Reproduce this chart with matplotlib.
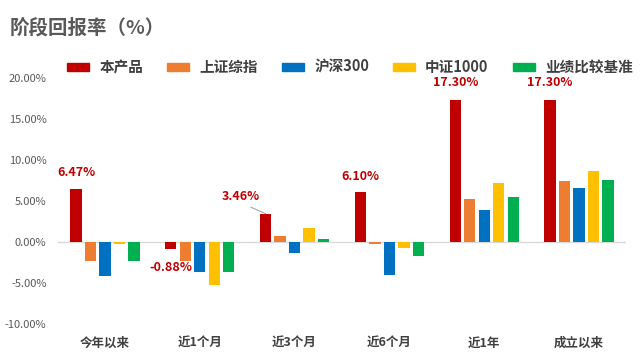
import matplotlib
matplotlib.use("Agg")
import matplotlib.pyplot as plt
import numpy as np
from matplotlib.patches import Patch

plt.rcParams['font.family'] = ['Noto Sans CJK SC', 'DejaVu Sans']

categories = ['今年以来', '近1个月', '近3个月', '近6个月', '近1年', '成立以来']
series_names = ['本产品', '上证综指', '沪深300', '中证1000', '业绩比较基准']
product = [6.47, -0.88, 3.46, 6.10, 17.30, 17.30]
sse = [-2.3, -2.3, 0.7, -0.3, 5.25, 7.45]
csi300 = [-4.2, -3.7, -1.3, -4.0, 3.9, 6.6]
csi1000 = [-0.2, -5.25, 1.7, -0.7, 7.2, 8.7]
benchmark = [-2.3, -3.7, 0.4, -1.7, 5.5, 7.6]
yticks = [-10, -5, 0, 5, 10, 15, 20]
labelled = ['6.47%', '-0.88%', '3.46%', '6.10%', '17.30%', '17.30%']

colors = ['#C00000', '#ED7D31', '#0070C0', '#FFC000', '#00B050']
# label offsets in points (dx, dy) relative to bar end
label_offsets = [(0, 11.5), (0, -13), (-18, 12.5), (0, 11), (0, 12.5), (0, 12.5)]

fig = plt.figure(figsize=(6.4, 3.61), dpi=100)
ax = fig.add_axes([57.6/640, 1-324/361, (626.4-57.6)/640, (324-78)/361])

data = [product, sse, csi300, csi1000, benchmark]
x = np.arange(len(categories))
pitch = 0.153
width = 0.119
for i, (vals, c) in enumerate(zip(data, colors)):
    ax.bar(x + (i-2)*pitch, vals, width=width, color=c, zorder=3)

for j, (v, lab) in enumerate(zip(product, labelled)):
    dx, dy = label_offsets[j]
    kw = {}
    if dx != 0:
        kw['arrowprops'] = dict(arrowstyle='-', color='#A6A6A6', lw=0.8,
                                relpos=(0.5, 0), shrinkA=3, shrinkB=0)
    ax.annotate(lab, xy=(x[j] - 2*pitch, v), xytext=(dx, dy),
                textcoords='offset points', ha='center', va='center',
                fontsize=9, fontweight='bold', color='#C00000', **kw)

ax.set_xlim(-0.5, len(categories)-0.5)
ax.set_ylim(-10, 20)
ax.set_yticks(yticks)
ax.set_yticklabels([f'{t:.2f}%' for t in yticks], fontsize=8, color='#595959')
ax.set_xticks(x)
ax.set_xticklabels(categories, fontsize=9, color='#404040', fontweight='bold')
ax.tick_params(axis='both', length=0)
ax.tick_params(axis='x', pad=9)
ax.tick_params(axis='y', pad=8)
for s in ax.spines.values():
    s.set_visible(False)
ax.axhline(0, color='#D9D9D9', lw=1, zorder=2)

fig.text(10/640, 1-28/361, '阶段回报率（%）', fontsize=14, fontweight='bold',
         color='#595959', ha='left', va='center')

handles = [Patch(color=c) for c in colors]
fig.legend(handles, series_names, loc='center', bbox_to_anchor=(350/640, 1-67/361),
           ncol=5, frameon=False, handlelength=1.5, handleheight=0.5,
           handletextpad=0.7, columnspacing=1.65,
           prop={'size': 10.5, 'weight': 'bold'}, labelcolor='#404040')

fig.savefig('out.png', dpi=100)
